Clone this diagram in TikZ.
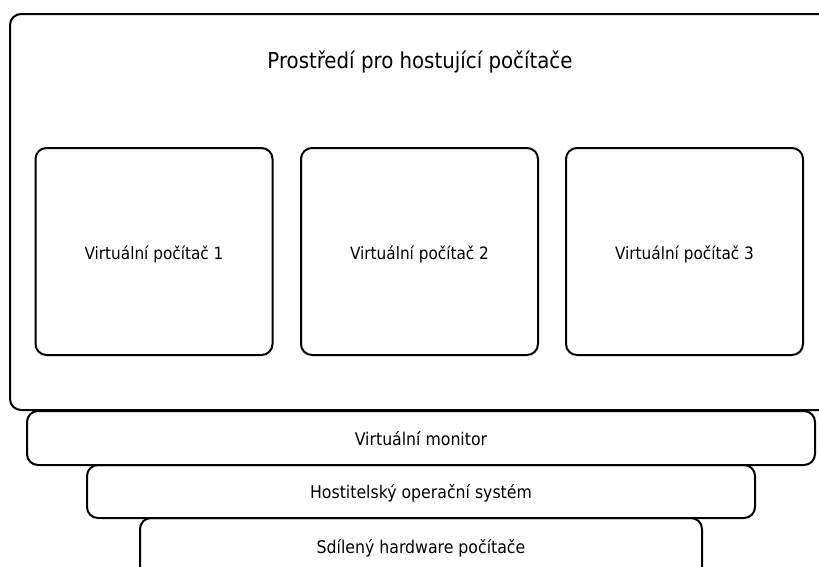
\documentclass[tikz,border=0pt]{standalone}
\usepackage{fontspec}
\setmainfont{DejaVu Sans Condensed}
\begin{document}
\begin{tikzpicture}[x=1pt,y=-1pt,
  box/.style={draw=black,line width=2pt,rounded corners=11pt,fill=white,
    inner sep=0pt,outer sep=0pt},
  vmbox/.style={box,minimum width=237pt,minimum height=207pt},
  layer/.style={box,minimum height=54pt},
  lbl/.style={anchor=base,inner sep=0pt},
  vmtext/.style={lbl,font=\fontsize{17}{20}\selectfont},
  layertext/.style={lbl,font=\fontsize{17.5}{21}\selectfont},
  title/.style={lbl,font=\fontsize{22}{26}\selectfont}]
  \useasboundingbox (0,0) rectangle (819,566);
  \clip (0,0) rectangle (819,566);
  % environment for the guest machines (runs past the right edge)
  \node[box,minimum width=830pt,minimum height=396pt] (env) at (425,212) {};
  \node[title] (envlabel) at (420,68.3) {Prostředí pro hostující počítače};
  % guest machines
  \node[vmbox] (vm1) at (154,251.5) {};
  \node[vmbox] (vm2) at (419.5,251.5) {};
  \node[vmbox] (vm3) at (684.5,251.5) {};
  \node[vmtext] (vm1label) at (154,259) {Virtuální počítač 1};
  \node[vmtext] (vm2label) at (419.5,259) {Virtuální počítač 2};
  \node[vmtext] (vm3label) at (684.5,259) {Virtuální počítač 3};
  % layers below
  \node[layer,minimum width=562pt,minimum height=64pt] (hw) at (421,550) {};
  \node[layer,minimum width=668pt,minimum height=53pt] (hostos) at (421,491.5) {};
  \node[layer,minimum width=788pt] (vmon) at (421,438) {};
  \node[layertext] (vmonlabel) at (421,445.5) {Virtuální monitor};
  \node[layertext] (hostoslabel) at (421,498.5) {Hostitelský operační systém};
  \node[layertext] (hwlabel) at (421,553) {Sdílený hardware počítače};
\end{tikzpicture}
\end{document}
